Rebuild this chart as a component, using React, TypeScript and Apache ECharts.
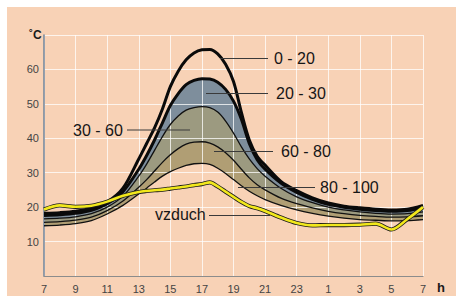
import React, { useEffect, useRef } from 'react';
import * as echarts from 'echarts';

// clock hours (7 = start, 31 = 7 o'clock next morning)
const hours = [7, 8, 9, 10, 11, 12, 13, 13.5, 14, 14.5, 15, 15.5, 16, 16.5, 17, 17.5, 18, 18.5, 19, 19.5, 20, 20.5, 21, 22, 23, 24, 25, 26, 27, 28, 29, 30, 31];

const t0to20 = [18.2, 18.4, 18.8, 19.7, 21.5, 25.5, 34, 38.5, 43, 48.5, 55, 59.5, 62.8, 64.8, 65.7, 65.8, 64.5, 61.5, 56.5, 47.5, 39.5, 34.8, 32.2, 27.5, 24.8, 22.7, 21.2, 20.3, 19.8, 19.4, 19.2, 19.4, 20.5];
const t20to30 = [17.6, 17.8, 18.2, 19.1, 21, 24.5, 31, 35, 39.5, 44.5, 49.5, 53, 55.6, 56.8, 57.3, 57.2, 56.3, 54.2, 50.8, 45.5, 38.5, 33.8, 31, 27, 24.3, 22.3, 20.8, 20, 19.4, 19, 18.8, 19, 19.9];
const t30to60 = [16.6, 16.8, 17.2, 18.1, 20, 23.2, 29, 32.5, 36.5, 40.5, 44, 46.5, 48.2, 48.9, 49.2, 48.9, 47.6, 45, 41.5, 37.5, 34, 31.2, 29, 25.5, 23, 21.3, 20, 19.2, 18.6, 18.2, 18, 18.1, 18.6];
const t60to80 = [15.6, 15.8, 16.2, 17.1, 19, 21.8, 25.8, 28, 30.5, 33, 35.2, 37, 38.3, 38.9, 39, 38.6, 37.5, 35.8, 33.6, 31, 28.5, 26.5, 25, 22.6, 21, 19.8, 18.8, 18.1, 17.6, 17.3, 17.1, 17.2, 17.5];
const t80to100 = [14.6, 14.8, 15.2, 16.1, 18, 20.5, 23.8, 25.5, 27.3, 29, 30.3, 31.3, 32.1, 32.6, 32.7, 32.4, 31.3, 29.8, 28, 26.2, 24.6, 23.3, 22.2, 20.5, 19.2, 18.2, 17.4, 16.8, 16.4, 16.2, 16, 16.1, 16.4];
const vzduch = [19.3, 20.5, 20.1, 20.4, 21.6, 23.3, 24.4, 24.7, 24.9, 25.1, 25.4, 25.7, 26, 26.4, 26.7, 27.2, 26, 24.5, 23, 21.5, 20.3, 19.7, 18.9, 17, 15.4, 14.7, 14.8, 14.8, 14.9, 15.2, 13.5, 16.5, 20];

const xTickLabels = ['7', '9', '11', '13', '15', '17', '19', '21', '23', '1', '3', '5', '7'];
const yTickLabels = ['', '10', '20', '30', '40', '50', '60', ''];

const PEACH = '#f8d2b6';
const BLUE = '#7e8e9c';
const OLIVE = '#9c9a80';
const TAN = '#b09e74';
const FONT = '"Liberation Sans", Arial, sans-serif';

function pts(vals: number[]) {
  return hours.map((h, i) => [h - 7, vals[i]]);
}

export default function App() {
  const ref = useRef<HTMLDivElement>(null);
  useEffect(() => {
    const chart = echarts.init(ref.current!, null, { renderer: 'svg' });
    const fill = (name: string, vals: number[], color: string) => ({
      type: 'line', name, data: pts(vals), smooth: 0.3, symbol: 'none', z: 1, silent: true,
      lineStyle: { width: 0, opacity: 0 },
      areaStyle: { color, opacity: 1, origin: 'start' },
    });
    const line = (name: string, vals: number[], color: string, width: number) => ({
      type: 'line', name, data: pts(vals), smooth: 0.3, symbol: 'none', z: 4, silent: true,
      lineStyle: { color, width },
    });
    const label = (text: string, x: number, y: number) => ({
      type: 'text', x, y, z: 10, silent: true,
      style: { text, font: `16px ${FONT}`, fill: '#161616', align: 'left', verticalAlign: 'middle' },
    });
    const leader = (x1: number, x2: number, y: number) => ({
      type: 'line', z: 10, silent: true,
      shape: { x1, y1: y, x2, y2: y },
      style: { stroke: '#3a3a3a', lineWidth: 1 },
    });
    chart.setOption({
      animation: false,
      grid: { left: 44, right: 33, top: 35, bottom: 25 },
      xAxis: {
        type: 'value', min: 0, max: 24, interval: 2, z: 3,
        axisLine: { show: true, lineStyle: { color: '#8c8c8c', width: 1 } },
        axisTick: { show: false },
        axisLabel: {
          color: '#444', fontSize: 11, fontFamily: FONT, margin: 7,
          formatter: (v: number) => xTickLabels[Math.round(v / 2)] ?? '',
        },
        splitLine: { show: true, lineStyle: { color: 'rgba(255,255,255,0.75)', width: 1 } },
      },
      yAxis: {
        type: 'value', min: 0, max: 70, interval: 10, z: 3,
        axisLine: { show: true, lineStyle: { color: '#71859a', width: 1.5 } },
        axisTick: { show: false },
        axisLabel: {
          color: '#444', fontSize: 11, fontFamily: FONT, margin: 5,
          formatter: (v: number) => yTickLabels[Math.round(v / 10)] ?? '',
        },
        splitLine: { show: true, lineStyle: { color: 'rgba(255,255,255,0.75)', width: 1 } },
      },
      series: [
        fill('20 - 30 pásmo', t20to30, BLUE),
        fill('30 - 60 pásmo', t30to60, OLIVE),
        fill('60 - 80 pásmo', t60to80, TAN),
        fill('80 - 100 pásmo', t80to100, PEACH),
        line('80 - 100', t80to100, '#111', 1.3),
        line('60 - 80', t60to80, '#111', 1.3),
        line('30 - 60', t30to60, '#111', 1.3),
        line('20 - 30', t20to30, '#0a0a0a', 3),
        line('0 - 20', t0to20, '#0a0a0a', 3),
        line('vzduch obrys', vzduch, '#1a1a1a', 4.2),
        line('vzduch', vzduch, '#f2e81c', 2.6),
      ],
      graphic: [
        label('0 - 20', 274, 58),
        label('20 - 30', 276, 93),
        label('30 - 60', 73, 130),
        label('60 - 80', 281, 151),
        label('80 - 100', 320, 187),
        label('vzduch', 155, 214),
        leader(220, 268, 58.5),
        leader(206, 268, 93.5),
        leader(127, 190, 130),
        leader(214, 273, 151.5),
        leader(238, 315, 187.5),
        leader(209, 270, 215.5),
        {
          type: 'text', x: 29, y: 35, z: 10, silent: true,
          style: { text: '˚C', font: `bold 12px ${FONT}`, fill: '#1a1a1a', align: 'left', verticalAlign: 'middle' },
        },
        {
          type: 'text', x: 437, y: 287, z: 10, silent: true,
          style: { text: 'h', font: `bold 13px ${FONT}`, fill: '#1a1a1a', align: 'left', verticalAlign: 'middle' },
        },
      ],
    });
    return () => chart.dispose();
  }, []);
  return (
    <div style={{ position: 'fixed', left: 0, top: 0, width: 456, height: 301, background: '#fff' }}>
      <div style={{ position: 'absolute', left: 7, top: 7, width: 449, height: 289, background: PEACH }} />
      <div ref={ref} style={{ position: 'absolute', left: 0, top: 0, width: 456, height: 301 }} />
    </div>
  );
}
